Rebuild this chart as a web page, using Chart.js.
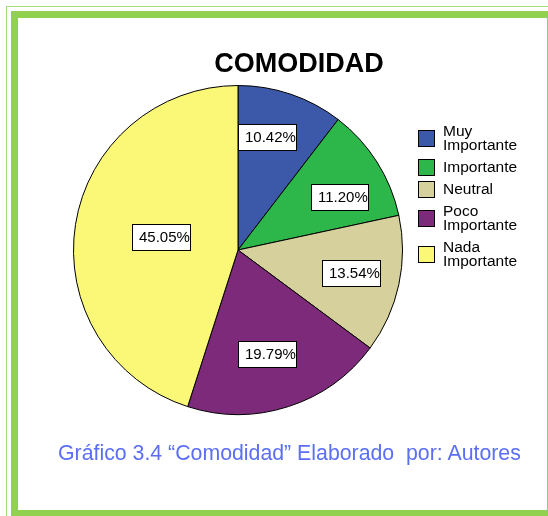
<!DOCTYPE html>
<html><head><meta charset="utf-8">
<script src="https://cdn.jsdelivr.net/npm/chart.js@4"></script>
<style>
html,body{margin:0;padding:0;background:#fff;width:548px;height:516px;overflow:hidden;position:relative;font-family:"Liberation Sans",Arial,sans-serif}
#outer{position:absolute;left:6px;top:6px;width:600px;height:600px;border-left:1.5px solid #a9dc7c;border-top:1.5px solid #a9dc7c;box-sizing:border-box}
#frame{position:absolute;left:11px;top:11px;width:543px;height:506px;border:7px solid #92d050;box-sizing:border-box}
#c{position:absolute;left:0;top:0}
#title{position:absolute;left:0;width:598px;top:49.5px;text-align:center;font-weight:bold;font-size:27px;line-height:27px;color:#000}
#caption{position:absolute;left:58px;top:443px;font-size:21.3px;line-height:21px;color:#5b6ef5;white-space:pre}
#legend{position:absolute;left:418px;top:124px}
.item{position:relative;margin-bottom:8px;padding-left:25px;font-size:15.5px;line-height:14px;color:#000}
.sw{position:absolute;left:0;top:50%;margin-top:-8.5px;width:15px;height:15px;border:1px solid #000}
</style></head>
<body>
<div id="outer"></div>
<div id="frame"></div>
<canvas id="c" width="548" height="516"></canvas>
<div id="title">COMODIDAD</div>
<div id="legend"></div>
<div id="caption">Gráfico 3.4 “Comodidad” Elaborado  por: Autores</div>
<script>
const categories = ["Muy Importante", "Importante", "Neutral", "Poco Importante", "Nada Importante"];
const values = [10.42, 11.20, 13.54, 19.79, 45.05];
const colors = ["#3c58a8", "#2db64a", "#d5d09c", "#7d2a7a", "#fbf878"];

const labelLayout = { radius: [0.709, 0.699, 0.700, 0.653, 0.475], turn: [-4.4, 4.8, -0.9, 2.4, 0.7] };

const leg = document.getElementById('legend');
categories.forEach((c, i) => {
  const it = document.createElement('div'); it.className = 'item';
  const sw = document.createElement('div'); sw.className = 'sw'; sw.style.background = colors[i];
  const lt = document.createElement('span');
  lt.innerHTML = c.split(' ').join('<br>');
  it.appendChild(sw); it.appendChild(lt); leg.appendChild(it);
});

const boxLabels = {
  id: 'boxLabels',
  afterDatasetsDraw(chart) {
    const ctx = chart.ctx;
    const meta = chart.getDatasetMeta(0);
    ctx.save();
    ctx.font = '15px "Liberation Sans", Arial, sans-serif';
    ctx.textBaseline = 'middle';
    meta.data.forEach((arc, i) => {
      const p = arc.getProps(['x', 'y', 'startAngle', 'endAngle', 'outerRadius'], true);
      const mid = (p.startAngle + p.endAngle) / 2 + labelLayout.turn[i] * Math.PI / 180;
      const r = p.outerRadius * labelLayout.radius[i];
      const cx = p.x + r * Math.cos(mid), cy = p.y + r * Math.sin(mid);
      const txt = values[i].toFixed(2) + '%';
      const w = Math.round(ctx.measureText(txt).width + 7), h = 26;
      const bx = Math.round(cx - w / 2), by = Math.round(cy - h / 2);
      ctx.fillStyle = '#fff';
      ctx.fillRect(bx, by, w, h);
      ctx.strokeStyle = '#000'; ctx.lineWidth = 1;
      ctx.strokeRect(bx + 0.5, by + 0.5, w, h);
      ctx.fillStyle = '#000';
      ctx.fillText(txt, bx + 7, by + h / 2 + 1);
    });
    ctx.restore();
  }
};

new Chart(document.getElementById('c'), {
  type: 'pie',
  data: { labels: categories, datasets: [{ data: values, backgroundColor: colors, borderColor: '#000', borderWidth: 1 }] },
  options: {
    responsive: false, animation: false,
    layout: { padding: { left: 73, right: 145, top: 85, bottom: 101 } },
    plugins: { legend: { display: false }, tooltip: { enabled: false }, title: { display: false } }
  },
  plugins: [boxLabels]
});
</script>
</body></html>
